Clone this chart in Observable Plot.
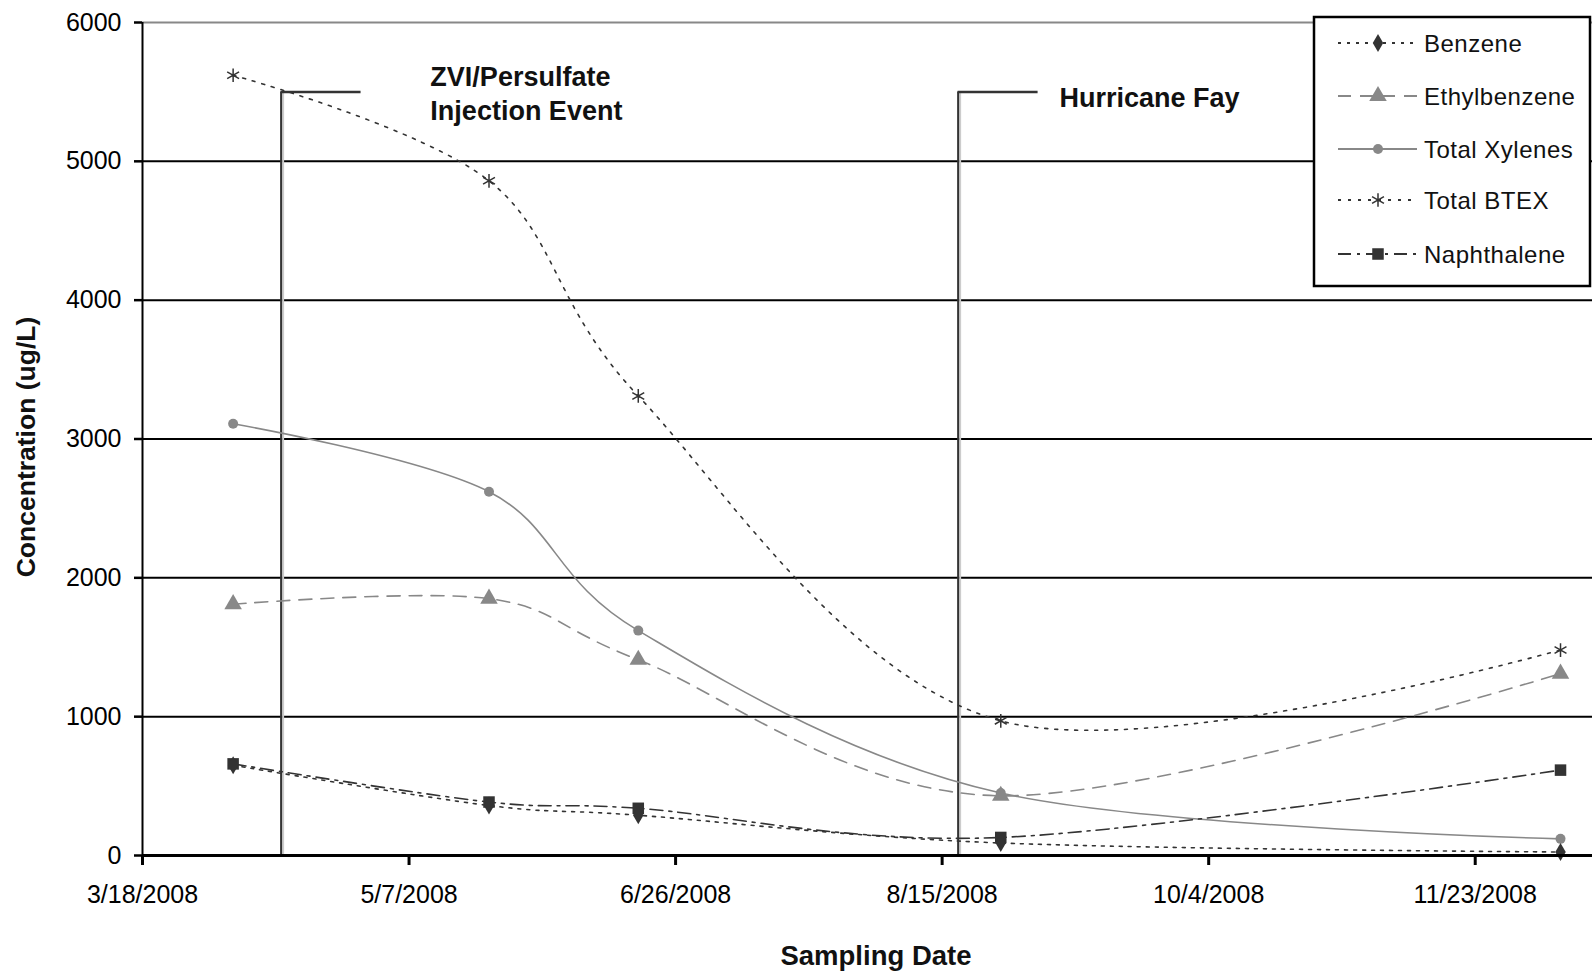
<!DOCTYPE html>
<html><head><meta charset="utf-8">
<script src="https://cdn.jsdelivr.net/npm/d3@7"></script>
<script src="https://cdn.jsdelivr.net/npm/@observablehq/plot@0.6"></script>
<style>body{margin:0;background:#fff}</style>
</head><body><div id="chart"></div>
<script>
// ---- data ----
const sampleDates = ["2008-04-04","2008-05-22","2008-06-19","2008-08-26","2008-12-09"];
const benzene      = [650, 360, 290, 90, 25];
const ethylbenzene = [1810, 1850, 1410, 430, 1310];
const totalXylenes = [3110, 2620, 1620, 450, 120];
const totalBTEX    = [5620, 4860, 3310, 970, 1480];
const naphthalene  = [660, 385, 340, 130, 615];
const seriesNames  = ["Benzene","Ethylbenzene","Total Xylenes","Total BTEX","Naphthalene"];
const seriesValues = [benzene, ethylbenzene, totalXylenes, totalBTEX, naphthalene];
const xTickLabels  = ["3/18/2008","5/7/2008","6/26/2008","8/15/2008","10/4/2008","11/23/2008"];
const yTicks       = [0,1000,2000,3000,4000,5000,6000];
const xDomain      = ["2008-03-18","2008-12-15"];
const eventDates   = ["2008-04-13","2008-08-18"];
const eventStubEnds= ["2008-04-28","2008-09-02"];
const eventLevel   = 5500;
const eventLabels  = ["ZVI/Persulfate\nInjection Event","Hurricane Fay"];
const eventLabelDates  = ["2008-05-11","2008-09-06"];
const eventLabelLevels = [5500, 5470];
const yTitle = "Concentration (ug/L)";
const xTitle = "Sampling Date";

// ---- styles ----
const styles = {
  "Benzene":       {stroke:"#333", dash:"3,6",       symbol:"diamond",  r:5.5, fill:"#333"},
  "Ethylbenzene":  {stroke:"#888", dash:"13,9",      symbol:"triangle", r:6.5, fill:"#888"},
  "Total Xylenes": {stroke:"#888", dash:null,        symbol:"circle",   r:5,   fill:"#888"},
  "Total BTEX":    {stroke:"#333", dash:"3,7",       symbol:"asterisk", r:6.5, fill:"none"},
  "Naphthalene":   {stroke:"#333", dash:"13,6,3,6",  symbol:"square",   r:6.5, fill:"#333"}
};

const parseMDY = s => { const [m,d,y] = s.split("/").map(Number); return new Date(Date.UTC(y, m-1, d)); };
const fmtMDY = d => `${d.getUTCMonth()+1}/${d.getUTCDate()}/${d.getUTCFullYear()}`;
const xTicks = xTickLabels.map(parseMDY);

const rows = [];
seriesNames.forEach((name, k) => {
  sampleDates.forEach((ds, i) => rows.push({series:name, date:new Date(ds), value:seriesValues[k][i]}));
});
const events = eventDates.map((d,i) => ({
  date:new Date(d), end:new Date(eventStubEnds[i]), label:eventLabels[i],
  labelDate:new Date(eventLabelDates[i]), labelLevel:eventLabelLevels[i]
}));

const lineMarks = [];
const order = ["Total BTEX","Total Xylenes","Ethylbenzene","Naphthalene","Benzene"];
order.forEach(name => {
  const s = styles[name];
  const data = rows.filter(r => r.series === name);
  lineMarks.push(Plot.line(data, {x:"date", y:"value", stroke:s.stroke, strokeWidth:1.6,
    strokeDasharray:s.dash || undefined, curve:"cardinal", tension:0}));
});
order.forEach(name => {
  const s = styles[name];
  const data = rows.filter(r => r.series === name);
  if (s.symbol === "asterisk") {
    lineMarks.push(Plot.dot(data, {x:"date", y:"value", symbol:"asterisk", r:s.r, stroke:s.stroke, strokeWidth:1.5, fill:"none"}));
  } else {
    lineMarks.push(Plot.dot(data, {x:"date", y:"value", symbol:s.symbol, r:s.r, fill:s.fill, stroke:"none"}));
  }
});

const W = 1592, H = 971;
const chart = Plot.plot({
  width: W, height: H,
  marginLeft: 142, marginRight: 0, marginTop: 22, marginBottom: 116,
  style: {fontFamily: "'Liberation Sans', Arial, sans-serif", background: "#fff", color:"#000", overflow:"visible"},
  x: {type:"utc", domain: xDomain.map(d => new Date(d))},
  y: {domain: [0, 6000]},
  marks: [
    Plot.ruleY(yTicks.filter(d => d > 0 && d < 6000), {stroke:"#000", strokeWidth:2}),
    Plot.ruleY([6000], {stroke:"#888", strokeWidth:2}),
    Plot.ruleX(events, {x:"date", y1:0, y2:eventLevel, stroke:"#ccc", strokeWidth:2, dx:2}),
    Plot.ruleX(events, {x:"date", y1:0, y2:eventLevel, stroke:"#333", strokeWidth:2}),
    Plot.ruleY(events, {y:eventLevel, x1:"date", x2:"end", stroke:"#333", strokeWidth:2.5}),
    Plot.text(events, {x:"labelDate", y:"labelLevel", text:"label", textAnchor:"start", fontSize:27,
      fontWeight:"bold", lineHeight:1.25, fill:"#111"}),
    ...lineMarks,
    Plot.ruleY([0], {stroke:"#000", strokeWidth:3}),
    Plot.ruleX([new Date(xDomain[0])], {y1:0, y2:6000, stroke:"#000", strokeWidth:2}),
    Plot.axisY({ticks:yTicks, tickFormat:d => String(d), tickSize:8, tickPadding:13, fontSize:25, label:null, strokeWidth:2.5}),
    Plot.axisX({ticks:xTicks, tickFormat:fmtMDY, tickSize:10, tickPadding:20, fontSize:25, label:null, strokeWidth:3})
  ]
});
document.getElementById("chart").appendChild(chart);

// ---- axis titles & legend ----
const svg = d3.select(chart);
svg.append("text").attr("transform","translate(26,447) rotate(-90)")
  .attr("text-anchor","middle").attr("dominant-baseline","central")
  .attr("font-size",26.5).attr("font-weight","bold").attr("fill","#111").text(yTitle);
svg.append("text").attr("x",876).attr("y",955)
  .attr("text-anchor","middle").attr("dominant-baseline","central")
  .attr("font-size",27.5).attr("font-weight","bold").attr("fill","#111").text(xTitle);

const lg = svg.append("g");
lg.append("rect").attr("x",1314).attr("y",17).attr("width",276).attr("height",269)
  .attr("fill","#fff").attr("stroke","#000").attr("stroke-width",2.5);
const symMap = {circle:d3.symbolCircle, triangle:d3.symbolTriangle, square:d3.symbolSquare,
  diamond:d3.symbolDiamond, asterisk:d3.symbolAsterisk};
const rowY = [43, 96, 149, 200, 254];
seriesNames.forEach((name, i) => {
  const s = styles[name], y = rowY[i];
  lg.append("line").attr("x1",1338).attr("x2",1417).attr("y1",y).attr("y2",y)
    .attr("stroke",s.stroke).attr("stroke-width",1.8).attr("stroke-dasharray", s.dash || null);
  const p = d3.symbol(symMap[s.symbol], Math.PI * s.r * s.r)();
  const sym = lg.append("path").attr("d",p).attr("transform",`translate(1378,${y})`);
  if (s.symbol === "asterisk") sym.attr("fill","none").attr("stroke",s.stroke).attr("stroke-width",1.5);
  else sym.attr("fill",s.fill);
  lg.append("text").attr("x",1424).attr("y",y).attr("text-anchor","start").attr("dominant-baseline","central")
    .attr("font-size",24).attr("fill","#111").attr("letter-spacing","0.5").text(name);
});
</script>
</body></html>
